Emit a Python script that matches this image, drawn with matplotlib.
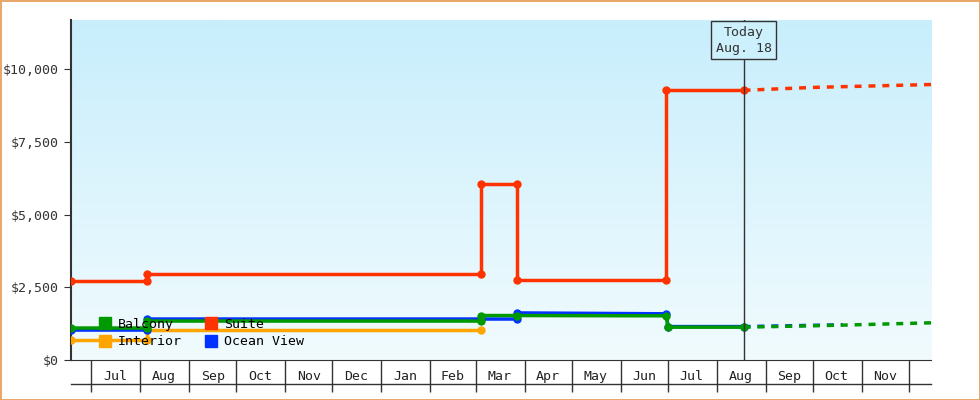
import matplotlib
matplotlib.use("Agg")
import matplotlib.pyplot as plt
import numpy as np
from matplotlib.colors import LinearSegmentedColormap
from matplotlib.lines import Line2D

plt.rcParams['font.family'] = ['DejaVu Sans Mono']

# ---- data ----
suite_dates = ["2023-06-18","2023-08-05","2023-08-05","2024-03-04","2024-03-04","2024-03-27","2024-03-27","2024-06-30","2024-06-30","2024-08-18"]
suite_vals  = [2720, 2720, 2970, 2970, 6070, 6070, 2760, 2760, 9280, 9280]
suite_fc_dates = ["2024-08-18", "2024-10-01", "2024-12-15"]
suite_fc_vals  = [9280, 9380, 9480]

ocean_dates = ["2023-06-18","2023-08-05","2023-08-05","2024-03-04","2024-03-27","2024-03-27","2024-06-30","2024-07-01","2024-08-18"]
ocean_vals  = [1030, 1030, 1410, 1410, 1410, 1620, 1590, 1150, 1150]
ocean_fc_dates = ["2024-08-18", "2024-10-20"]
ocean_fc_vals  = [1150, 1210]

balcony_dates = ["2023-06-18","2023-08-05","2023-08-05","2024-03-04","2024-03-04","2024-03-27","2024-06-30","2024-07-01","2024-08-18"]
balcony_vals  = [1100, 1100, 1340, 1340, 1530, 1530, 1520, 1130, 1130]
balcony_fc_dates = ["2024-08-18", "2024-10-20", "2024-12-15"]
balcony_fc_vals  = [1130, 1200, 1280]

interior_dates = ["2023-06-18","2023-08-05","2023-08-05","2024-03-04"]
interior_vals  = [690, 690, 1030, 1030]

month_labels = ["Jul","Aug","Sep","Oct","Nov","Dec","Jan","Feb","Mar","Apr","May","Jun","Jul","Aug","Sep","Oct","Nov"]
today = "2024-08-18"

def d(s):
    return np.datetime64(s)

fig = plt.figure(figsize=(9.8, 4), dpi=100)
fig.patch.set_facecolor("white")
fig.patch.set_edgecolor("#e8a86a")
fig.patch.set_linewidth(2)
ax = fig.add_axes([71/980, 40/400, 860/980, 340/400])

ax.set_xlim(d("2023-06-18"), d("2024-12-15"))
ax.set_ylim(0, 11700)

grad = np.linspace(0, 1, 256).reshape(-1, 1)
cm = LinearSegmentedColormap.from_list("g", ["#f1fbfe", "#c8eefc"])
ax.imshow(grad, aspect="auto", cmap=cm, origin="lower", extent=[0, 1, 0, 1],
          transform=ax.transAxes, zorder=0)

def plot_series(dates, vals, color, z):
    ax.plot([d(s) for s in dates], vals, color=color, lw=2.5, marker="o", ms=5, zorder=z)

def plot_fc(dates, vals, color, z):
    ax.plot([d(s) for s in dates], vals, color=color, lw=2.5, ls=(0, (2, 2)), zorder=z)

plot_series(suite_dates, suite_vals, "#ff3300", 3)
plot_fc(suite_fc_dates, suite_fc_vals, "#ff3300", 3)
plot_series(interior_dates, interior_vals, "#ffa500", 3)
plot_series(ocean_dates, ocean_vals, "#0033ff", 4)
plot_fc(ocean_fc_dates, ocean_fc_vals, "#0033ff", 4)
plot_series(balcony_dates, balcony_vals, "#009900", 5)
plot_fc(balcony_fc_dates, balcony_fc_vals, "#009900", 5)

ax.axvline(d(today), color="#333333", lw=1, zorder=6)
ax.text(d(today), 11000, "Today\nAug. 18", ha="center", va="center", fontsize=9.5,
        color="#333333", linespacing=1.3, zorder=7,
        bbox=dict(boxstyle="square,pad=0.35", fc="#ccf0fc", ec="#333333", lw=1))

ax.set_yticks([0, 2500, 5000, 7500, 10000])
ax.set_yticklabels(["$0", "$2,500", "$5,000", "$7,500", "$10,000"], fontsize=9.5)
ax.tick_params(axis="y", direction="out", length=5, color="#333333", labelcolor="#333333")
for s in ["top", "right"]:
    ax.spines[s].set_visible(False)
ax.spines["left"].set_color("#333333")
ax.spines["bottom"].set_color("#333333")
ax.spines["left"].set_linewidth(1.5)

bounds = []
y, m = 2023, 7
for i in range(18):
    bounds.append(np.datetime64(f"{y:04d}-{m:02d}-01"))
    m += 1
    if m > 12:
        m = 1; y += 1
mids = [bounds[i] + (bounds[i+1] - bounds[i]) / 2 for i in range(17)]
ax.set_xticks(mids)
ax.set_xticklabels(month_labels, fontsize=9.5, color="#222222")
ax.tick_params(axis="x", length=0, pad=7)
ax.set_xticks(bounds, minor=True)
ax.tick_params(axis="x", which="minor", direction="out", length=23, color="#333333", width=1)
ax.plot([0, 1], [-24/340, -24/340], transform=ax.transAxes, color="#333333", lw=1, clip_on=False)

handles = [Line2D([], [], ls="", marker="s", ms=9, color=c) for c in ["#009900", "#ffa500", "#ff3300", "#0033ff"]]
ax.legend(handles, ["Balcony", "Interior", "Suite", "Ocean View"], ncol=2, frameon=False,
          loc="lower left", bbox_to_anchor=(0.01, 0.0), handletextpad=0.0, columnspacing=1.2,
          labelspacing=0.35, fontsize=9.5)

fig.savefig("out.png", dpi=100, facecolor=fig.get_facecolor(), edgecolor=fig.get_edgecolor())
